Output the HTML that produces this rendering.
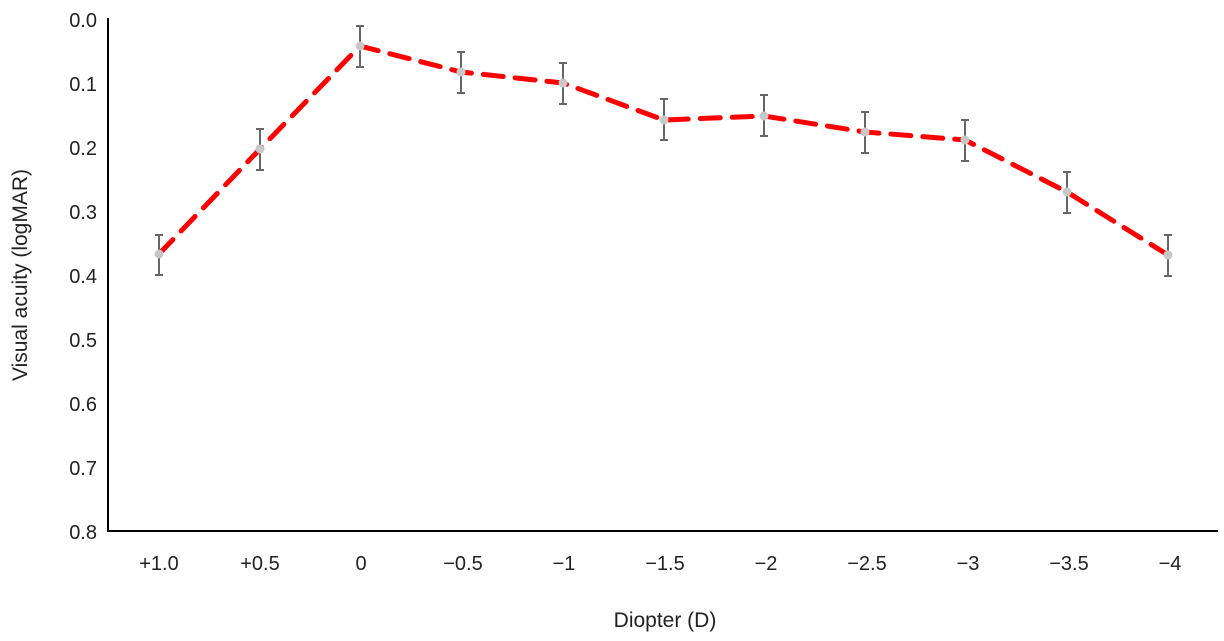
<!DOCTYPE html>
<html><head><meta charset="utf-8"><style>
body{margin:0;background:#fff}
svg text{font-family:"Liberation Sans",sans-serif;fill:#222}
</style></head><body>
<svg width="1224" height="636" viewBox="0 0 1224 636">
<g font-size="20" text-anchor="end">
<text x="97" y="27">0.0</text><text x="97" y="91">0.1</text><text x="97" y="155">0.2</text>
<text x="97" y="219">0.3</text><text x="97" y="283">0.4</text><text x="97" y="347">0.5</text>
<text x="97" y="411">0.6</text><text x="97" y="475">0.7</text><text x="97" y="539">0.8</text>
</g>
<g font-size="20" text-anchor="middle">
<text x="159" y="570">+1.0</text><text x="260" y="570">+0.5</text><text x="361" y="570">0</text>
<text x="463" y="570">−0.5</text><text x="564" y="570">−1</text><text x="665" y="570">−1.5</text>
<text x="766" y="570">−2</text><text x="867" y="570">−2.5</text><text x="968" y="570">−3</text>
<text x="1069" y="570">−3.5</text><text x="1170" y="570">−4</text>
<text x="665" y="627" font-size="21">Diopter (D)</text>
<text transform="translate(27,275) rotate(-90)" font-size="21">Visual acuity (logMAR)</text>
</g>
<path d="M108 18V531H1218" fill="none" stroke="#000" stroke-width="2"/>
<g stroke="#666" stroke-width="2" fill="none">
<path d="M159 235V275M155 235H163M155 275H163"/>
<path d="M260 129V170M256 129H264M256 170H264"/>
<path d="M360 26V67M356 26H364M356 67H364"/>
<path d="M461 52V93M457 52H465M457 93H465"/>
<path d="M563 63V104M559 63H567M559 104H567"/>
<path d="M664 99V140M660 99H668M660 140H668"/>
<path d="M764 95V136M760 95H768M760 136H768"/>
<path d="M865 112V153M861 112H869M861 153H869"/>
<path d="M965 120V161M961 120H969M961 161H969"/>
<path d="M1067 172V213M1063 172H1071M1063 213H1071"/>
<path d="M1168 235V276M1164 235H1172M1164 276H1172"/>
</g>
<polyline points="159,254 260,149 360,46 461,72 563,83 664,120 764,116 865,132 965,140 1067,192 1168,255" fill="none" stroke="#f00" stroke-width="5" stroke-dasharray="20,12" stroke-linecap="round" stroke-linejoin="round"/>
<g fill="#c8c8c8">
<circle cx="159" cy="254" r="4.5"/><circle cx="260" cy="149" r="4.5"/><circle cx="360" cy="46" r="4.5"/>
<circle cx="461" cy="72" r="4.5"/><circle cx="563" cy="83" r="4.5"/><circle cx="664" cy="120" r="4.5"/>
<circle cx="764" cy="116" r="4.5"/><circle cx="865" cy="132" r="4.5"/><circle cx="965" cy="140" r="4.5"/>
<circle cx="1067" cy="192" r="4.5"/><circle cx="1168" cy="255" r="4.5"/>
</g>
</svg>
</body></html>
